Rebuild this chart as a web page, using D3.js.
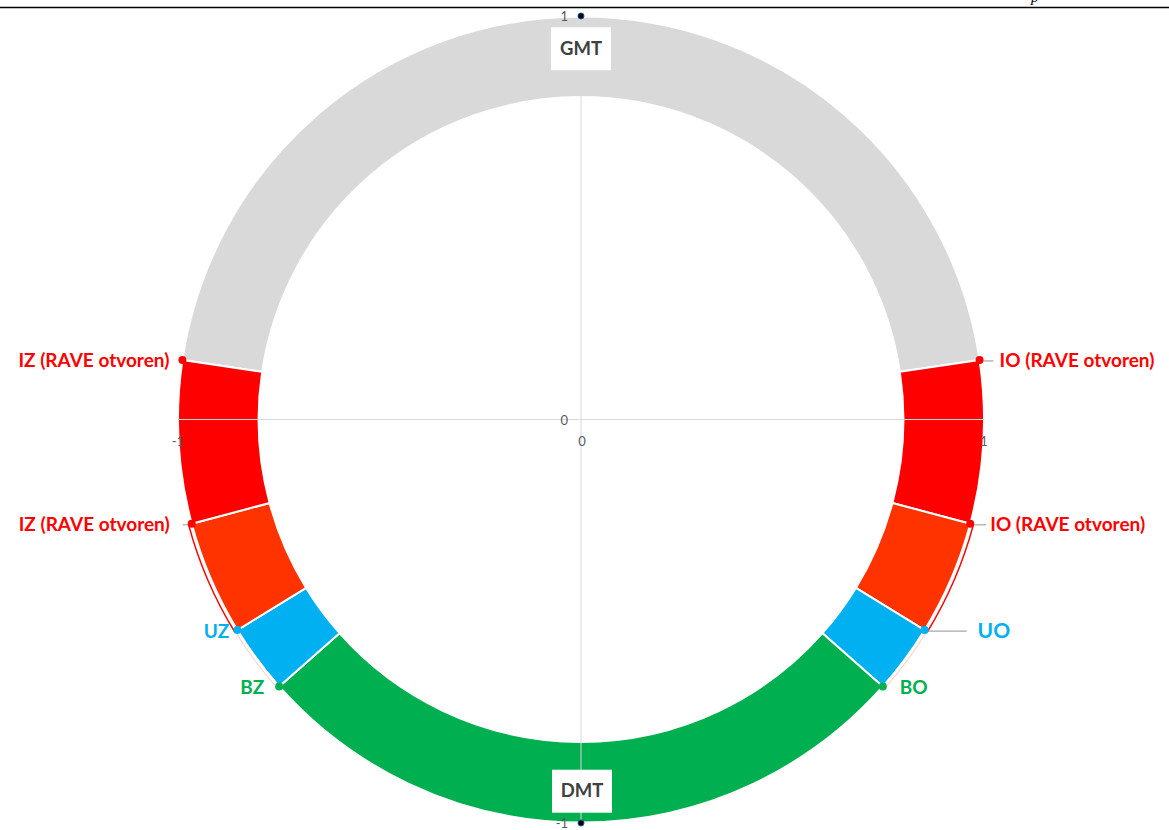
<!DOCTYPE html>
<html><head><meta charset="utf-8">
<script src="https://cdn.jsdelivr.net/npm/d3@7"></script>
<style>body{margin:0;background:#fff}svg{display:block}</style>
</head><body>
<svg id="c" width="1169" height="830"></svg>
<script>
// Data: ring segments (angular share in degrees, clockwise from GMT)
const segments = ["GMT","IO (RAVE otvoren)","IO (RAVE otvoren) 2","UO","DMT","UZ","IZ (RAVE otvoren) 2","IZ (RAVE otvoren)"];
const segValues = [163, 23.5, 16.5, 10, 97, 10, 16.5, 23.5];
const segColors = ["#d9d9d9","#ff0000","#ff3300","#00b0f0","#00b050","#00b0f0","#ff3300","#ff0000"];
// point labels on the ring
const rightLabels = ["IO (RAVE otvoren)","IO (RAVE otvoren)","UO","BO"];
const leftLabels = ["IZ (RAVE otvoren)","IZ (RAVE otvoren)","UZ","BZ"];
const labelColors = ["#ff0000","#ff0000","#00b0f0","#00b050"];
const centerLabels = ["GMT","DMT"];
const xTicks = [-1, 0, 1];
const yTicks = [-1, 0, 1];
const innerRatio = 0.8;

const svg = d3.select("#c");
const x = d3.scaleLinear().domain([-1,1]).range([178,984]);
const y = d3.scaleLinear().domain([-1,1]).range([823,16]);
const cx = x(0), cy = y(0);
const R = x(1) - x(0);
const deg = Math.PI/180;

// top rule
svg.append("line").attr("x1",0).attr("x2",1169).attr("y1",7.5).attr("y2",7.5)
  .attr("stroke","#000").attr("stroke-width",1.5);
svg.append("text").attr("x",1031).attr("y",2).attr("font-family","Liberation Serif")
  .attr("font-style","italic").attr("font-size",15).attr("fill","#000").text("p");

const total = d3.sum(segValues);
const start = -segValues[0]/2*deg;
const pie = d3.pie().sort(null).value(d=>d).startAngle(start).endAngle(start+total*deg);
const arcs = pie(segValues);
const arc = d3.arc().innerRadius(R*innerRatio).outerRadius(R);

const g = svg.append("g").attr("transform",`translate(${cx},${cy})`);
g.selectAll("path.seg").data(arcs).join("path").attr("class","seg")
  .attr("d",arc).attr("fill",(d,i)=>segColors[i])
  .attr("stroke","#fff").attr("stroke-width",2);

// thin outline arcs beyond orange segments
[2,6].forEach(i=>{
  g.append("path").attr("d",d3.arc().innerRadius(R+2.5).outerRadius(R+4)({startAngle:arcs[i].startAngle,endAngle:arcs[i].endAngle}))
   .attr("fill","#ff0000");
});
[3,5].forEach(i=>{
  g.append("path").attr("d",d3.arc().innerRadius(R+2).outerRadius(R+3)({startAngle:arcs[i].startAngle,endAngle:arcs[i].endAngle}))
   .attr("fill","#ffd0d0");
});

// axes lines (drawn over ring)
svg.append("line").attr("x1",x(-1)).attr("x2",x(1)).attr("y1",y(0)).attr("y2",y(0))
  .attr("stroke","#d9d9d9").attr("stroke-width",1);
svg.append("line").attr("x1",x(0)).attr("x2",x(0)).attr("y1",y(1)).attr("y2",y(-1))
  .attr("stroke","#d9d9d9").attr("stroke-width",1);

const tickFont = "Lato, 'Liberation Sans', sans-serif";
// x tick labels
xTicks.forEach(v=>{
  svg.append("text").attr("x",x(v)+(v===0?1:0)).attr("y",y(0)+26).attr("text-anchor","middle")
    .attr("font-family",tickFont).attr("font-size",13).attr("fill","#595959").text(v);
});
// y tick labels
yTicks.forEach(v=>{
  svg.append("text").attr("x",x(0)-13).attr("y",y(v)+5).attr("text-anchor","end")
    .attr("font-family",tickFont).attr("font-size",13).attr("fill","#595959").text(v);
  if (v!==0) svg.append("circle").attr("cx",x(0)).attr("cy",y(v)).attr("r",3)
    .attr("fill","#000").attr("stroke","#1f4e9a").attr("stroke-width",1);
});

// center labels GMT / DMT
centerLabels.forEach((t,i)=>{
  const v = i===0 ? 1 : -1;
  const px = x(0) + (i===0?0:1), yy = y(v*0.92);
  svg.append("rect").attr("x",px-30).attr("y",yy-21).attr("width",60).attr("height",43).attr("fill","#fff");
  svg.append("text").attr("x",px).attr("y",yy+6.5).attr("text-anchor","middle")
    .attr("font-family",tickFont).attr("font-weight","bold").attr("font-size",18.5).attr("fill","#404040").text(t);
});

// point labels
const pt = a => [cx + R*Math.sin(a), cy - R*Math.cos(a)];
const rGap = [20,20,53,17], lGap = [13,22,8,15];
const rLead = [[4,14],[4,16],[4,42],null], lLead = [null,[3,9],null,null];
const rSize = [19,19,21,19];
rightLabels.forEach((t,i)=>{
  const [px,py] = pt(arcs[i+1].startAngle);
  if (rLead[i]) svg.append("line").attr("x1",px+rLead[i][0]).attr("x2",px+rLead[i][1]).attr("y1",py+1).attr("y2",py+1)
    .attr("stroke","#a6a6a6").attr("stroke-width",1.2);
  svg.append("circle").attr("cx",px).attr("cy",py).attr("r",4).attr("fill",labelColors[i]);
  svg.append("text").attr("x",px+rGap[i]).attr("y",py+7.5).attr("font-family",tickFont).attr("font-weight","bold")
    .attr("font-size",rSize[i]).attr("fill",labelColors[i]).text(t);
});
leftLabels.forEach((t,i)=>{
  const [px,py] = pt(arcs[7-i].endAngle);
  if (lLead[i]) svg.append("line").attr("x1",px-lLead[i][1]).attr("x2",px-lLead[i][0]).attr("y1",py+1).attr("y2",py+1)
    .attr("stroke","#a6a6a6").attr("stroke-width",1.2);
  svg.append("circle").attr("cx",px).attr("cy",py).attr("r",4).attr("fill",labelColors[i]);
  svg.append("text").attr("x",px-lGap[i]).attr("y",py+7.5).attr("text-anchor","end").attr("font-family",tickFont)
    .attr("font-weight","bold").attr("font-size",19).attr("fill",labelColors[i]).text(t);
});
</script>
</body></html>
